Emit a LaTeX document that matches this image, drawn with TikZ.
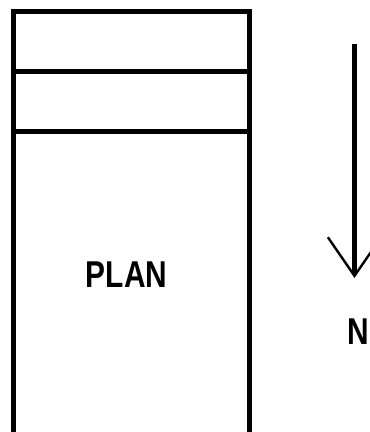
\documentclass[tikz,border=0pt]{standalone}
\usepackage{fontspec}
\setmainfont{Liberation Sans}
\usetikzlibrary{arrows.meta,positioning}

\begin{document}
\begin{tikzpicture}[x=0.75pt, y=-0.75pt, line width=3.4pt,
		>={Straight Barb[length=29pt, width=40pt, line width=1.8pt]},
		lbl/.style={font=\fontsize{28}{30}\selectfont\bfseries, xscale=0.8, inner sep=0pt}]
	\useasboundingbox (0,0) rectangle (370,432);

	% outline of the plan, open at the bottom
	\draw (13.5,445) -- (13.5,11.5) -- (249.5,11.5) -- (249.5,445);
	\foreach \y in {71.5,131.5} {
		\draw (13.5,\y) -- (249.5,\y);
	}
	\node[lbl] (plan) at (126.5,274.5) {PLAN};

	% north arrow
	\coordinate (top) at (354.5,44);
	\coordinate (tip) at (354.5,278);
	\draw[->] (top) -- (tip);
	\node[lbl] (north) at (358,331.5) {N};
\end{tikzpicture}
\end{document}
